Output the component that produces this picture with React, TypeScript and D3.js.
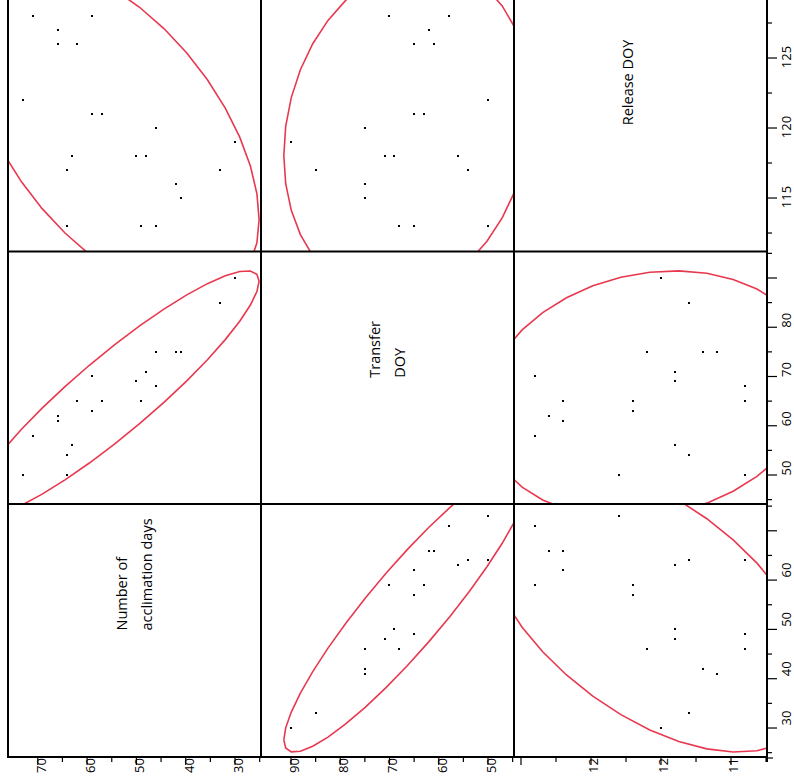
import React from 'react';
import * as d3 from 'd3';

// One row per fish batch
const releaseDOY = [128, 128, 127, 126, 126, 122, 121, 121, 120, 119, 118, 118, 118, 117, 117, 116, 115, 113, 113, 113];
const transferDOY = [58, 70, 62, 61, 65, 50, 63, 65, 75, 90, 56, 69, 71, 54, 85, 75, 75, 50, 65, 68];
const acclimationDays = [71, 59, 66, 66, 62, 73, 59, 57, 46, 30, 63, 50, 48, 64, 33, 42, 41, 64, 49, 46];

const diagonalLabels = [['Number of', 'acclimation days'], ['Transfer', 'DOY'], ['Release DOY']];

// bottom axis tick labels per column
const accBottomTicks = [70, 60, 50, 40, 30];
const transferBottomTicks = [90, 80, 70, 60, 50];
const releaseBottomTicks = [125, 120, 115];
// right axis tick labels per row (row 0 = release, row 1 = transfer, row 2 = acclimation)
const releaseRightTicks = [125, 120, 115];
const transferRightTicks = [80, 70, 60, 50];
const accRightTicks = [60, 50, 40, 30];

const accMajor = [70, 60, 50, 40, 30];
const accMinor = [75, 65, 55, 45, 35, 25];
const transferMajor = [90, 80, 70, 60, 50];
const transferMinor = [95, 85, 75, 65, 55, 45];
const releaseMajor = [130, 125, 120, 115];
const releaseMinor = [127.5, 122.5, 117.5, 112.5];

function ellipsePoints(xs: number[], ys: number[], k: number, n: number) {
  const N = xs.length;
  const mx = d3.mean(xs) as number;
  const my = d3.mean(ys) as number;
  let sxx = 0, syy = 0, sxy = 0;
  for (let i = 0; i < N; i++) {
    const dx = xs[i] - mx, dy = ys[i] - my;
    sxx += dx * dx; syy += dy * dy; sxy += dx * dy;
  }
  sxx /= N; syy /= N; sxy /= N;
  const l11 = Math.sqrt(sxx);
  const l21 = sxy / l11;
  const l22 = Math.sqrt(Math.max(syy - l21 * l21, 0));
  return d3.range(n + 1).map((i) => {
    const t = (2 * Math.PI * i) / n;
    const u = Math.cos(t), v = Math.sin(t);
    return [mx + k * l11 * u, my + k * (l21 * u + l22 * v)] as [number, number];
  });
}

export default function App() {
  const W = 794, H = 782;
  const S = 253;
  const colX = [8, 261, 514];
  const rowLines = [-10, 251.5, 504, 757];
  const dataTop = [-5, 248, 501];
  const axisX = 767;
  const axisY = 757;
  const font = '"Open Sans", "Noto Sans", "Liberation Sans", sans-serif';
  const red = '#e8384f';

  const vars = [
    { values: acclimationDays, domain: [76.04, 24.73], bottom: accBottomTicks, right: accRightTicks, major: accMajor, minor: accMinor, bottomShift: 3, tickShift: 0, rightShift: -10 },
    { values: transferDOY, domain: [96.09, 44.72], bottom: transferBottomTicks, right: transferRightTicks, major: transferMajor, minor: transferMinor, bottomShift: 3, tickShift: 0, rightShift: -7 },
    { values: releaseDOY, domain: [129.5, 111.43], bottom: releaseBottomTicks, right: releaseRightTicks, major: releaseMajor, minor: releaseMinor, bottomShift: 16, tickShift: 14, rightShift: -1 },
  ];
  const xScale = (c: number) => d3.scaleLinear().domain(vars[c].domain).range([colX[c], colX[c] + S]);
  const yScale = (r: number) => d3.scaleLinear().domain(vars[2 - r].domain).range([dataTop[r], dataTop[r] + S]);
  const k = Math.sqrt(5.991);

  const panels: JSX.Element[] = [];
  const clips: JSX.Element[] = [];
  for (let r = 0; r < 3; r++) {
    for (let c = 0; c < 3; c++) {
      const yv = 2 - r;
      const id = `clip-${r}-${c}`;
      const x0 = colX[c], y0 = rowLines[r], y1 = rowLines[r + 1];
      clips.push(<clipPath id={id} key={id}><rect x={x0} y={y0} width={S} height={y1 - y0} /></clipPath>);
      if (c === yv) {
        const lines = diagonalLabels[c];
        const cx = x0 + S / 2;
        const cy = (Math.max(y0, -1) + y1) / 2;
        const lx = lines.length === 2 ? [cx - 13.5, cx + 12] : [cx - 13.5];
        panels.push(
          <g key={`d${r}${c}`}>
            {lines.map((t, i) => (
              <text key={i} transform={`translate(${lx[i]},${cy}) rotate(-90)`} textAnchor="start" dominantBaseline="central" fontSize={14.5} fontFamily={font} fill="#000">{t}</text>
            ))}
          </g>
        );
        continue;
      }
      const xs = xScale(c), ys = yScale(r);
      const xv = vars[c].values, yvv = vars[yv].values;
      const pts = ellipsePoints(xv, yvv, k, 36);
      const line = d3.line<[number, number]>().x((d) => xs(d[0])).y((d) => ys(d[1]));
      panels.push(
        <g key={`p${r}${c}`} clipPath={`url(#${id})`}>
          <path d={line(pts) || ''} fill="none" stroke={red} strokeWidth={1.6} />
          {xv.map((v, i) => (
            <rect key={i} x={Math.round(xs(v)) - 1} y={Math.round(ys(yvv[i])) - 1} width={2} height={2} fill="#000" shapeRendering="crispEdges" />
          ))}
        </g>
      );
    }
  }

  // bottom axis
  const bottomTicks: JSX.Element[] = [];
  const bottomLabels: JSX.Element[] = [];
  for (let c = 0; c < 3; c++) {
    const xs = xScale(c);
    const lo = colX[c], hi = colX[c] + S;
    const ts = vars[c].tickShift;
    vars[c].major.forEach((v) => {
      const x = xs(v) + ts;
      if (x < lo + 6 || x > hi + 1) return;
      bottomTicks.push(<line key={`bM${c}-${v}`} x1={x} x2={x} y1={axisY} y2={axisY + 8} stroke="#000" strokeWidth={1.2} />);
    });
    vars[c].minor.forEach((v) => {
      const x = xs(v) + ts;
      if (x < lo + 6 || x > hi + 1) return;
      bottomTicks.push(<line key={`bm${c}-${v}`} x1={x} x2={x} y1={axisY} y2={axisY + 5} stroke="#000" strokeWidth={1.2} />);
    });
    vars[c].bottom.forEach((v) => {
      const x = xs(v) + vars[c].bottomShift;
      bottomLabels.push(
        <text key={`bl${c}-${v}`} transform={`translate(${x},${773}) rotate(-90)`} textAnchor="start" dominantBaseline="central" fontSize={13} fontFamily={font} fill="#000">{v}</text>
      );
    });
  }

  // right axis
  const rightEls: JSX.Element[] = [];
  for (let r = 0; r < 3; r++) {
    const ys = yScale(r);
    const vi = 2 - r;
    const lo = Math.max(rowLines[r], 0), hi = rowLines[r + 1];
    vars[vi].major.forEach((v) => {
      const y = ys(v);
      if (y < lo + 1 || y > hi - 1) return;
      rightEls.push(<line key={`rM${r}-${v}`} x1={axisX} x2={axisX + 10} y1={y} y2={y} stroke="#000" strokeWidth={1.2} />);
    });
    vars[vi].minor.forEach((v) => {
      const y = ys(v);
      if (y < lo + 1 || y > hi - 1) return;
      rightEls.push(<line key={`rm${r}-${v}`} x1={axisX} x2={axisX + 5} y1={y} y2={y} stroke="#000" strokeWidth={1.2} />);
    });
    vars[vi].right.forEach((v) => {
      const y = ys(v) + vars[vi].rightShift;
      rightEls.push(
        <text key={`rl${r}-${v}`} transform={`translate(${786},${y}) rotate(-90)`} textAnchor="middle" dominantBaseline="central" fontSize={13} fontFamily={font} fill="#000">{v}</text>
      );
    });
  }

  return (
    <svg width={W} height={H} style={{ position: 'absolute', left: 0, top: 0, background: '#fff' }}>
      <defs>
        {clips}
        <clipPath id="clip-bottom"><rect x={0} y={axisY + 1} width={W} height={H} /></clipPath>
      </defs>
      <rect x={0} y={0} width={W} height={H} fill="#fff" />
      {panels}
      {[8, 261, 514, 767].map((x) => (
        <line key={`v${x}`} x1={x} x2={x} y1={-2} y2={x === 767 ? 762 : axisY} stroke="#000" strokeWidth={2} />
      ))}
      {[251.5, 504, 757].map((y) => (
        <line key={`h${y}`} x1={7} x2={767} y1={y} y2={y} stroke="#000" strokeWidth={2} />
      ))}
      <line x1={767} x2={773} y1={758} y2={758} stroke="#000" strokeWidth={1.2} />
      {bottomTicks}
      <g clipPath="url(#clip-bottom)">{bottomLabels}</g>
      {rightEls}
    </svg>
  );
}
